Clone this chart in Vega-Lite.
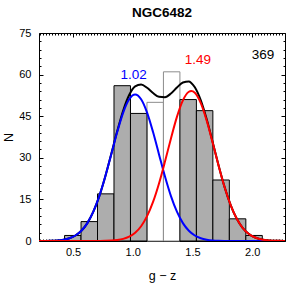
{
  "$schema": "https://vega.github.io/schema/vega-lite/v6.json",
  "width": 246,
  "height": 208,
  "autosize": {"type": "none"},
  "padding": {"left": 39, "top": 33, "right": 6, "bottom": 50},
  "background": "white",
  "title": {"text": "NGC6482", "fontSize": 13.5, "fontWeight": "bold", "font": "Liberation Sans", "color": "black", "anchor": "middle", "frame": "group", "baseline": "alphabetic", "offset": -3},
  "config": {
    "view": {"stroke": "black", "strokeWidth": 1},
    "axis": {"domain": false, "grid": false, "tickColor": "black", "tickWidth": 1, "labelColor": "black", "titleColor": "black", "labelFont": "Liberation Sans", "titleFont": "Liberation Sans", "titleFontWeight": "normal", "zindex": 1}
  },
  "datasets": {
    "hist": [
      {"x0": 0.429, "x1": 0.567, "n": 2, "kind": "hatched"},
      {"x0": 0.567, "x1": 0.705, "n": 7, "kind": "hatched"},
      {"x0": 0.705, "x1": 0.843, "n": 17, "kind": "hatched"},
      {"x0": 0.843, "x1": 0.981, "n": 56, "kind": "hatched"},
      {"x0": 0.981, "x1": 1.119, "n": 46, "kind": "hatched"},
      {"x0": 1.119, "x1": 1.257, "n": 50, "kind": "open"},
      {"x0": 1.257, "x1": 1.395, "n": 61, "kind": "open"},
      {"x0": 1.395, "x1": 1.533, "n": 51, "kind": "hatched"},
      {"x0": 1.533, "x1": 1.671, "n": 47, "kind": "hatched"},
      {"x0": 1.671, "x1": 1.809, "n": 22, "kind": "hatched"},
      {"x0": 1.809, "x1": 1.947, "n": 8, "kind": "hatched"},
      {"x0": 1.947, "x1": 2.085, "n": 2, "kind": "hatched"}
    ],
    "blue": [
      {"x": 0.2, "y": 0.01}, {"x": 0.22, "y": 0.01}, {"x": 0.27, "y": 0.03}, {"x": 0.32, "y": 0.08}, {"x": 0.37, "y": 0.2}, {"x": 0.42, "y": 0.47}, {"x": 0.47, "y": 0.99}, {"x": 0.52, "y": 1.98}, {"x": 0.57, "y": 3.69}, {"x": 0.62, "y": 6.45}, {"x": 0.67, "y": 10.56}, {"x": 0.72, "y": 16.18}, {"x": 0.77, "y": 23.23}, {"x": 0.82, "y": 31.22}, {"x": 0.87, "y": 39.28}, {"x": 0.92, "y": 46.3}, {"x": 0.97, "y": 51.09}, {"x": 1.02, "y": 52.8}, {"x": 1.07, "y": 51.09}, {"x": 1.12, "y": 46.3}, {"x": 1.17, "y": 39.28}, {"x": 1.22, "y": 31.22}, {"x": 1.27, "y": 23.23}, {"x": 1.32, "y": 16.18}, {"x": 1.37, "y": 10.56}, {"x": 1.42, "y": 6.45}, {"x": 1.47, "y": 3.69}, {"x": 1.52, "y": 1.98}, {"x": 1.57, "y": 0.99}, {"x": 1.62, "y": 0.47}, {"x": 1.67, "y": 0.2}, {"x": 1.72, "y": 0.08}, {"x": 1.77, "y": 0.03}, {"x": 1.82, "y": 0.01}, {"x": 1.92, "y": 0}, {"x": 2.3, "y": 0}
    ],
    "red": [
      {"x": 0.2, "y": 0}, {"x": 0.67, "y": 0}, {"x": 0.72, "y": 0.02}, {"x": 0.77, "y": 0.06}, {"x": 0.82, "y": 0.15}, {"x": 0.87, "y": 0.35}, {"x": 0.92, "y": 0.76}, {"x": 0.97, "y": 1.55}, {"x": 1.02, "y": 2.97}, {"x": 1.07, "y": 5.33}, {"x": 1.12, "y": 8.95}, {"x": 1.17, "y": 14.09}, {"x": 1.22, "y": 20.76}, {"x": 1.27, "y": 28.64}, {"x": 1.32, "y": 37.0}, {"x": 1.37, "y": 44.77}, {"x": 1.42, "y": 50.72}, {"x": 1.47, "y": 53.82}, {"x": 1.49, "y": 54.1}, {"x": 1.52, "y": 53.46}, {"x": 1.57, "y": 49.73}, {"x": 1.62, "y": 43.32}, {"x": 1.67, "y": 35.34}, {"x": 1.72, "y": 27.0}, {"x": 1.77, "y": 19.31}, {"x": 1.82, "y": 12.94}, {"x": 1.87, "y": 8.11}, {"x": 1.92, "y": 4.77}, {"x": 1.97, "y": 2.62}, {"x": 2.02, "y": 1.35}, {"x": 2.07, "y": 0.65}, {"x": 2.12, "y": 0.29}, {"x": 2.17, "y": 0.12}, {"x": 2.22, "y": 0.05}, {"x": 2.27, "y": 0.02}, {"x": 2.3, "y": 0.01}
    ],
    "total": [
      {"x": 0.2, "y": 0.01}, {"x": 0.22, "y": 0.01}, {"x": 0.27, "y": 0.03}, {"x": 0.32, "y": 0.08}, {"x": 0.37, "y": 0.2}, {"x": 0.42, "y": 0.47}, {"x": 0.47, "y": 0.99}, {"x": 0.52, "y": 1.98}, {"x": 0.57, "y": 3.69}, {"x": 0.62, "y": 6.45}, {"x": 0.67, "y": 10.56}, {"x": 0.72, "y": 16.2}, {"x": 0.77, "y": 23.29}, {"x": 0.82, "y": 31.37}, {"x": 0.87, "y": 39.63}, {"x": 0.92, "y": 47.06}, {"x": 0.97, "y": 52.64}, {"x": 1.02, "y": 55.77}, {"x": 1.07, "y": 56.42}, {"x": 1.12, "y": 55.25}, {"x": 1.17, "y": 53.37}, {"x": 1.22, "y": 51.98}, {"x": 1.27, "y": 51.87}, {"x": 1.32, "y": 53.18}, {"x": 1.37, "y": 55.33}, {"x": 1.42, "y": 57.17}, {"x": 1.47, "y": 57.51}, {"x": 1.49, "y": 57.0}, {"x": 1.52, "y": 55.44}, {"x": 1.57, "y": 50.72}, {"x": 1.62, "y": 43.79}, {"x": 1.67, "y": 35.55}, {"x": 1.72, "y": 27.08}, {"x": 1.77, "y": 19.34}, {"x": 1.82, "y": 12.95}, {"x": 1.87, "y": 8.11}, {"x": 1.92, "y": 4.77}, {"x": 1.97, "y": 2.62}, {"x": 2.02, "y": 1.35}, {"x": 2.07, "y": 0.65}, {"x": 2.12, "y": 0.29}, {"x": 2.17, "y": 0.12}, {"x": 2.22, "y": 0.05}, {"x": 2.27, "y": 0.02}, {"x": 2.3, "y": 0.01}
    ],
    "notes": [
      {"x": 1.007, "y": 59.8, "label": "1.02", "comp": "blue"},
      {"x": 1.546, "y": 65.2, "label": "1.49", "comp": "red"},
      {"x": 2.09, "y": 67, "label": "369", "comp": "total"}
    ]
  },
  "resolve": {"axis": {"x": "independent", "y": "independent"}},
  "layer": [
    {
      "data": {"name": "hist"},
      "transform": [{"filter": "datum.kind === 'open'"}],
      "mark": {"type": "rect", "fill": "white", "stroke": "#8c8c8c", "strokeWidth": 1},
      "encoding": {
        "x": {"field": "x0", "type": "quantitative", "scale": {"domain": [0.215, 2.275], "nice": false, "zero": false},
              "axis": {"orient": "bottom", "values": [0.5, 1, 1.5, 2], "format": ".1f", "ticks": false, "labelFontSize": 11, "labelPadding": 5, "title": "g − z", "titleFontSize": 12.5, "titlePadding": 12}},
        "x2": {"field": "x1"},
        "y": {"field": "n", "type": "quantitative", "scale": {"domain": [0, 75], "nice": false},
              "axis": {"orient": "left", "values": [0, 15, 30, 45, 60, 75], "ticks": false, "labelFontSize": 11, "labelPadding": 8, "title": "N", "titleFontSize": 12.5, "titlePadding": 3}},
        "y2": {"datum": 0}
      }
    },
    {
      "data": {"name": "hist"},
      "transform": [{"filter": "datum.kind === 'hatched'"}],
      "mark": {"type": "rect", "fill": "#adadad", "stroke": "black", "strokeWidth": 1},
      "encoding": {
        "x": {"field": "x0", "type": "quantitative", "axis": {"orient": "bottom", "values": [0.5, 1, 1.5, 2], "tickSize": -4, "labels": false, "title": null}},
        "x2": {"field": "x1"},
        "y": {"field": "n", "type": "quantitative", "axis": {"orient": "left", "values": [0, 15, 30, 45, 60, 75], "tickSize": -4, "labels": false, "title": null}},
        "y2": {"datum": 0}
      }
    },
    {
      "data": {"name": "total"},
      "mark": {"type": "line", "color": "black", "strokeWidth": 2, "interpolate": "monotone", "clip": true},
      "encoding": {
        "x": {"field": "x", "type": "quantitative", "axis": {"orient": "top", "values": [0.5, 1, 1.5, 2], "tickSize": -4, "labels": false, "title": null}},
        "y": {"field": "y", "type": "quantitative", "axis": {"orient": "right", "values": [0, 15, 30, 45, 60, 75], "tickSize": -4, "labels": false, "title": null}}
      }
    },
    {
      "data": {"name": "blue"},
      "mark": {"type": "line", "color": "#0000ff", "strokeWidth": 2, "interpolate": "monotone", "clip": true},
      "encoding": {
        "x": {"field": "x", "type": "quantitative", "axis": {"orient": "bottom", "values": [0.225,0.25,0.275,0.3,0.325,0.35,0.375,0.4,0.425,0.45,0.475,0.5,0.525,0.55,0.575,0.6,0.625,0.65,0.675,0.7,0.725,0.75,0.775,0.8,0.825,0.85,0.875,0.9,0.925,0.95,0.975,1,1.025,1.05,1.075,1.1,1.125,1.15,1.175,1.2,1.225,1.25,1.275,1.3,1.325,1.35,1.375,1.4,1.425,1.45,1.475,1.5,1.525,1.55,1.575,1.6,1.625,1.65,1.675,1.7,1.725,1.75,1.775,1.8,1.825,1.85,1.875,1.9,1.925,1.95,1.975,2,2.025,2.05,2.075,2.1,2.125,2.15,2.175,2.2,2.225,2.25,2.275], "tickSize": -2, "labels": false, "title": null}},
        "y": {"field": "y", "type": "quantitative", "axis": {"orient": "left", "values": [3,6,9,12,18,21,24,27,33,36,39,42,48,51,54,57,63,66,69,72], "tickSize": -2, "labels": false, "title": null}}
      }
    },
    {
      "data": {"name": "red"},
      "mark": {"type": "line", "color": "#ff0000", "strokeWidth": 2, "interpolate": "monotone", "clip": true},
      "encoding": {
        "x": {"field": "x", "type": "quantitative", "axis": {"orient": "top", "values": [0.225,0.25,0.275,0.3,0.325,0.35,0.375,0.4,0.425,0.45,0.475,0.5,0.525,0.55,0.575,0.6,0.625,0.65,0.675,0.7,0.725,0.75,0.775,0.8,0.825,0.85,0.875,0.9,0.925,0.95,0.975,1,1.025,1.05,1.075,1.1,1.125,1.15,1.175,1.2,1.225,1.25,1.275,1.3,1.325,1.35,1.375,1.4,1.425,1.45,1.475,1.5,1.525,1.55,1.575,1.6,1.625,1.65,1.675,1.7,1.725,1.75,1.775,1.8,1.825,1.85,1.875,1.9,1.925,1.95,1.975,2,2.025,2.05,2.075,2.1,2.125,2.15,2.175,2.2,2.225,2.25,2.275], "tickSize": -2, "labels": false, "title": null}},
        "y": {"field": "y", "type": "quantitative", "axis": {"orient": "right", "values": [3,6,9,12,18,21,24,27,33,36,39,42,48,51,54,57,63,66,69,72], "tickSize": -2, "labels": false, "title": null}}
      }
    },
    {
      "data": {"name": "notes"},
      "mark": {"type": "text", "fontSize": 13.5, "font": "Liberation Sans", "align": "center", "baseline": "middle"},
      "encoding": {
        "x": {"field": "x", "type": "quantitative", "axis": null},
        "y": {"field": "y", "type": "quantitative", "axis": null},
        "text": {"field": "label"},
        "color": {"field": "comp", "type": "nominal", "scale": {"domain": ["blue", "red", "total"], "range": ["#0000ff", "#ff0000", "#000000"]}, "legend": null}
      }
    }
  ]
}
